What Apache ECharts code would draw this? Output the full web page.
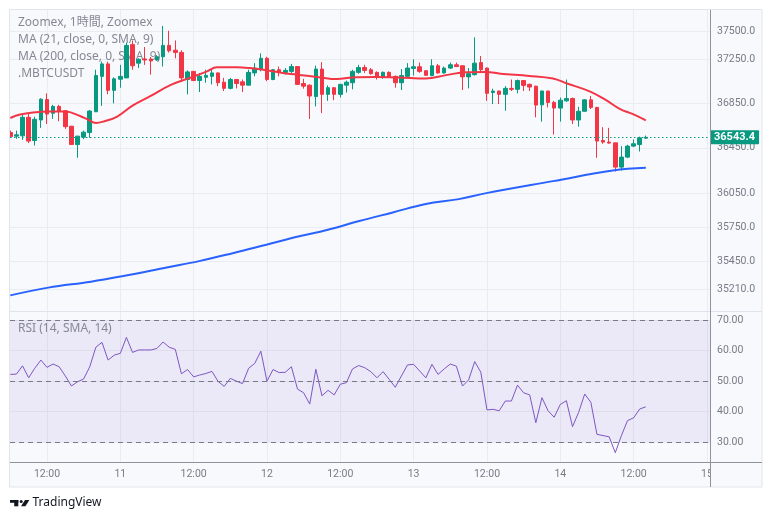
<!DOCTYPE html>
<html>
<head>
<meta charset="utf-8">
<title>Zoomex .MBTCUSDT 1h</title>
<script src="https://cdn.jsdelivr.net/npm/echarts@6/dist/echarts.min.js"></script>
<style>
    html, body { margin: 0; padding: 0; background: #fff; }
    #chart { width: 772px; height: 523px; }
</style>
</head>
<body>
<div id="chart"></div>
<script>
// hourly candles, the first one is day 10 06:00 (hour 6 counted from day 10 00:00)
const firstHour = 6;
const open = [36586, 36554, 36557, 36723, 36515, 36699, 36883, 36759, 36821, 36782,
    36643, 36479, 36545, 36586, 36773, 37093, 37206, 36966, 37067, 37079,
    37382, 37213, 37251, 37251, 37242, 37271, 37375, 37331, 37311, 37064,
    37138, 37055, 37084, 37093, 37124, 37040, 36984, 37064, 37043, 37013,
    37124, 37159, 37257, 37064, 37153, 37129, 37138, 37182, 37028, 37013,
    36910, 37159, 36930, 36990, 36930, 37013, 37035, 37129, 37173, 37153,
    37129, 37088, 37129, 37093, 37035, 37093, 37165, 37180, 37144, 37100,
    37189, 37124, 37168, 37198, 37189, 37088, 37108, 37218, 37168, 36946,
    36960, 36930, 36984, 36975, 37055, 37020, 37004, 36835, 36960, 36857,
    36806, 36871, 36892, 36699, 36777, 36880, 36812, 36515, 36501, 36494,
    36278, 36367, 36465, 36479, 36536];
const high = [36604, 36604, 36759, 36753, 36728, 36895, 36939, 36835, 36835, 36788,
    36646, 36557, 36604, 36788, 37153, 37227, 37227, 37084, 37197, 37399,
    37420, 37257, 37360, 37269, 37286, 37553, 37509, 37420, 37331, 37147,
    37142, 37124, 37153, 37168, 37129, 37079, 37079, 37068, 37064, 37153,
    37213, 37302, 37271, 37160, 37182, 37168, 37206, 37186, 37070, 37020,
    37191, 37222, 37011, 36995, 37025, 37055, 37153, 37198, 37198, 37168,
    37138, 37138, 37138, 37100, 37159, 37213, 37248, 37218, 37146, 37248,
    37206, 37182, 37218, 37218, 37192, 37168, 37449, 37278, 37173, 36981,
    36962, 37004, 37064, 37064, 37058, 37028, 37008, 36962, 36962, 36871,
    36901, 37064, 36901, 36817, 36886, 36915, 36817, 36634, 36628, 36496,
    36465, 36477, 36524, 36550, 36559];
const low = [36539, 36530, 36521, 36492, 36470, 36628, 36663, 36708, 36687, 36619,
    36477, 36361, 36527, 36539, 36770, 36826, 36930, 36848, 36990, 37079,
    37153, 37168, 37197, 37108, 37233, 37182, 37309, 37257, 37049, 36930,
    37050, 36951, 37035, 37020, 37004, 36960, 36975, 36984, 36951, 37011,
    37093, 37138, 37049, 37058, 37093, 37108, 37124, 37015, 36981, 36708,
    36821, 36761, 36871, 36877, 36901, 36946, 36975, 37117, 37124, 37108,
    37064, 37070, 37085, 36990, 36969, 37088, 37100, 37124, 37100, 37093,
    37117, 37117, 37159, 37177, 36969, 36984, 37100, 37124, 36871, 36842,
    36842, 36782, 36960, 36939, 36960, 36960, 36723, 36684, 36812, 36568,
    36684, 36862, 36663, 36639, 36775, 36797, 36361, 36486, 36486, 36239,
    36248, 36358, 36456, 36417, 36530];
const close = [36550, 36566, 36723, 36510, 36705, 36886, 36752, 36821, 36776, 36639,
    36479, 36554, 36590, 36779, 37100, 37206, 36966, 37070, 37093, 37375,
    37189, 37248, 37242, 37233, 37271, 37375, 37325, 37311, 37079, 37133,
    37055, 37093, 37102, 37124, 37035, 36984, 37064, 37028, 37013, 37129,
    37168, 37257, 37064, 37153, 37133, 37147, 37182, 37020, 37004, 36915,
    37159, 36930, 36990, 36930, 37020, 37040, 37138, 37173, 37147, 37117,
    37088, 37129, 37088, 37035, 37100, 37168, 37180, 37138, 37102, 37189,
    37124, 37168, 37198, 37182, 37088, 37117, 37213, 37153, 36939, 36960,
    36930, 36984, 36975, 37055, 37011, 36996, 36833, 36960, 36857, 36806,
    36877, 36892, 36699, 36777, 36880, 36812, 36510, 36501, 36492, 36278,
    36367, 36465, 36486, 36539, 36543.4];

// RSI (14, SMA, 14), one value per candle
const rsi = [52.2, 52.3, 55.0, 51.1, 54.2, 56.9, 54.5, 55.6, 54.7, 51.7,
    48.4, 49.8, 50.7, 54.7, 61.1, 62.7, 56.9, 58.5, 59.1, 64.3,
    59.4, 60.2, 60.2, 60.2, 60.7, 62.8, 61.1, 60.4, 52.4, 53.8,
    51.4, 52.0, 52.5, 53.2, 49.9, 48.3, 50.9, 50.0, 49.2, 54.2,
    55.8, 59.8, 50.0, 53.8, 52.8, 52.9, 54.7, 47.4, 46.2, 42.5,
    53.9, 45.2, 47.0, 45.5, 49.0, 49.5, 54.0, 55.1, 54.4, 53.1,
    51.1, 53.1, 50.6, 48.0, 51.7, 55.3, 55.5, 53.3, 51.1, 55.5,
    52.2, 54.0, 55.6, 54.9, 48.4, 50.4, 56.4, 52.9, 40.6, 40.8,
    40.3, 43.5, 43.5, 48.7, 46.2, 45.5, 36.4, 44.6, 40.3, 38.2,
    42.4, 43.6, 35.1, 39.8, 45.8, 43.1, 32.6, 32.2, 31.8, 26.6,
    32.2, 37.1, 38.0, 40.9, 41.6];

// moving averages: [hour, price]
const ma21 = [[6, 36717], [7.6, 36748], [9.7, 36766], [12.5, 36775], [15, 36775],
    [17.4, 36735], [18.7, 36703], [20, 36672], [21.3, 36686], [23.5, 36730],
    [26, 36828], [28.9, 36913], [32.1, 37011], [35.4, 37079], [38.2, 37138],
    [39.8, 37175], [43.1, 37175], [45.2, 37168], [47.4, 37153], [50.6, 37124],
    [52.9, 37108], [56.2, 37088], [59.5, 37068], [61.9, 37082], [65.8, 37086],
    [69.6, 37082], [74, 37073], [77.3, 37104], [80.6, 37131], [83.9, 37133],
    [86.2, 37117], [90.9, 37097], [94.8, 37073], [97.1, 37028], [100.9, 36955],
    [103.5, 36877], [105.8, 36797], [107.9, 36752], [110, 36696]];
const ma200 = [[6, 35157], [12.2, 35224], [19.2, 35275], [24.1, 35320], [31.8, 35400],
    [36.9, 35453], [42.4, 35522], [47.9, 35596], [53.3, 35669], [57.8, 35724],
    [63.1, 35803], [68.6, 35878], [74, 35952], [79.4, 35995], [83.9, 36048],
    [94.8, 36154], [104.6, 36248], [110, 36272]];

const priceTicks = [35210, 35450, 35750, 36050, 36450, 36850, 37250, 37500];
const rsiTicks = [30, 40, 50, 60, 70];
const rsiLevels = [70, 50, 30];
const timeTicks = [12, 24, 36, 48, 60, 72, 84, 96, 108, 120];
const timeLabels = ['12:00', '11', '12:00', '12', '12:00', '13', '12:00', '14', '12:00', '15'];
const legendLines = ['Zoomex, 1時間, Zoomex', 'MA (21, close, 0, SMA, 9)', 'MA (200, close, 0, SMA, 9)', '.MBTCUSDT'];

const UP = '#089981';
const DOWN = '#f23645';
const BG = '#f8f9fd';
const GRID = '#eaecf1';
const TEXT = '#787b86';
const FONT = 'Roboto, "Noto Sans CJK JP", sans-serif';

const candles = open.map((o, i) => [firstHour + i, o, close[i], low[i], high[i]]);
const rsiData = rsi.map((v, i) => [firstHour + i, v]);
const lastClose = close[close.length - 1];

const chart = echarts.init(document.getElementById('chart'));

chart.setOption({
    backgroundColor: BG,
    animation: false,
    textStyle: { fontFamily: FONT },
    grid: [
        { left: 10, top: 10, width: 700, height: 301 },
        { left: 10, top: 311, width: 700, height: 151 }
    ],
    xAxis: [{
        type: 'value',
        gridIndex: 0,
        min: 5.95,
        max: 120.5,
        axisLine: { show: false },
        axisTick: { show: false, customValues: timeTicks },
        axisLabel: { show: false },
        splitLine: { lineStyle: { color: GRID } }
    }, {
        type: 'value',
        gridIndex: 1,
        min: 5.95,
        max: 120.5,
        axisLine: { show: false },
        axisTick: { show: false, customValues: timeTicks },
        axisLabel: {
            customValues: timeTicks,
            formatter: v => timeLabels[timeTicks.indexOf(v)],
            color: TEXT,
            fontSize: 10.5,
            margin: 7
        },
        splitLine: { lineStyle: { color: GRID } }
    }],
    yAxis: [{
        type: 'log',
        gridIndex: 0,
        position: 'right',
        min: 35023,
        max: 37700,
        axisLine: { show: false },
        axisTick: { show: false, customValues: priceTicks },
        axisLabel: {
            customValues: priceTicks,
            formatter: v => v.toFixed(1),
            color: TEXT,
            fontSize: 10.5,
            margin: 7
        },
        splitLine: { lineStyle: { color: GRID } }
    }, {
        type: 'value',
        gridIndex: 1,
        position: 'right',
        min: 23.56,
        max: 72.94,
        axisLine: { show: false },
        axisTick: { show: false, customValues: rsiTicks },
        axisLabel: {
            customValues: rsiTicks,
            formatter: v => v.toFixed(2),
            color: TEXT,
            fontSize: 10.5,
            margin: 7
        },
        splitLine: { lineStyle: { color: GRID } }
    }],
    series: [{
        name: '.MBTCUSDT',
        type: 'candlestick',
        xAxisIndex: 0,
        yAxisIndex: 0,
        data: candles,
        encode: { x: 0, y: [1, 2, 3, 4] },
        barWidth: 4,
        itemStyle: {
            color: UP,
            color0: DOWN,
            borderColor: UP,
            borderColor0: DOWN,
            borderWidth: 1
        },
        markLine: {
            silent: true,
            symbol: ['none', 'none'],
            lineStyle: { color: UP, type: [1.5, 2.5], width: 1, opacity: 1 },
            label: {
                position: 'end',
                distance: 0,
                formatter: lastClose.toFixed(1),
                color: '#fff',
                fontWeight: 'bold',
                fontSize: 11,
                backgroundColor: UP,
                padding: [2, 4, 1, 4],
                borderRadius: 1
            },
            data: [{ yAxis: lastClose }]
        }
    }, {
        name: 'MA 21',
        type: 'line',
        xAxisIndex: 0,
        yAxisIndex: 0,
        data: ma21,
        smooth: 0.4,
        showSymbol: false,
        z: 3,
        lineStyle: { color: DOWN, width: 2 }
    }, {
        name: 'MA 200',
        type: 'line',
        xAxisIndex: 0,
        yAxisIndex: 0,
        data: ma200,
        smooth: 0.4,
        showSymbol: false,
        z: 3,
        lineStyle: { color: '#2962ff', width: 2 }
    }, {
        name: 'RSI',
        type: 'line',
        xAxisIndex: 1,
        yAxisIndex: 1,
        data: rsiData,
        showSymbol: false,
        lineStyle: { color: '#7e57c2', width: 1 },
        markArea: {
            silent: true,
            itemStyle: { color: 'rgba(126, 87, 194, 0.1)' },
            data: [[{ yAxis: 30 }, { yAxis: 70 }]]
        },
        markLine: {
            silent: true,
            symbol: ['none', 'none'],
            label: { show: false },
            lineStyle: { color: TEXT, type: [5, 4], width: 1 },
            data: rsiLevels.map(v => ({ yAxis: v }))
        }
    }],
    graphic: [
        // white page around the chart card
        { type: 'rect', z: 100, shape: { x: 0, y: 0, width: 772, height: 9.5 }, style: { fill: '#fff' } },
        { type: 'rect', z: 100, shape: { x: 0, y: 0, width: 9.5, height: 523 }, style: { fill: '#fff' } },
        { type: 'rect', z: 100, shape: { x: 762, y: 0, width: 10, height: 523 }, style: { fill: '#fff' } },
        { type: 'rect', z: 100, shape: { x: 0, y: 487, width: 772, height: 36 }, style: { fill: '#fff' } },
        { type: 'rect', z: 101, shape: { x: 9.5, y: 9.5, width: 752.5, height: 477.5 }, style: { fill: 'none', stroke: '#e3e5ea', lineWidth: 1 } },
        // price scale covers the last time label
        { type: 'rect', z: 100, shape: { x: 711, y: 463, width: 50.5, height: 23.5 }, style: { fill: BG } },
        // pane borders
        { type: 'line', z: 101, shape: { x1: 10, y1: 311.5, x2: 762, y2: 311.5 }, style: { stroke: '#e0e3eb', lineWidth: 1 } },
        { type: 'line', z: 102, shape: { x1: 710.5, y1: 10, x2: 710.5, y2: 487 }, style: { stroke: '#8f929b', lineWidth: 1 } },
        { type: 'line', z: 102, shape: { x1: 10, y1: 462.5, x2: 762, y2: 462.5 }, style: { stroke: '#8f929b', lineWidth: 1 } },
        // legends
        ...legendLines.map((t, i) => ({
            type: 'text', z: 1, left: 18, top: 17 + i * 16.8,
            style: { text: t, fill: '#868993', font: '12px "Noto Sans", "Noto Sans CJK JP", sans-serif' }
        })),
        {
            type: 'text', z: 10, left: 18, top: 322.5,
            style: { text: 'RSI (14, SMA, 14)', fill: '#868993', font: '12px "Noto Sans", sans-serif' }
        },
        // TradingView mark
        { type: 'rect', z: 103, shape: { x: 10, y: 500, width: 8.3, height: 2.8 }, style: { fill: '#131722' } },
        { type: 'rect', z: 103, shape: { x: 14.2, y: 500, width: 4.1, height: 6.3 }, style: { fill: '#131722' } },
        { type: 'circle', z: 103, shape: { cx: 21.2, cy: 501.6, r: 1.5 }, style: { fill: '#131722' } },
        { type: 'polygon', z: 103, shape: { points: [[25, 500], [29.4, 500], [25.4, 506.3], [21, 506.3]] }, style: { fill: '#131722' } },
        {
            type: 'text', z: 103, left: 32.5, top: 497,
            style: { text: 'TradingView', fill: '#131722', font: '12px "Noto Sans", sans-serif' }
        }
    ]
});
</script>
</body>
</html>
